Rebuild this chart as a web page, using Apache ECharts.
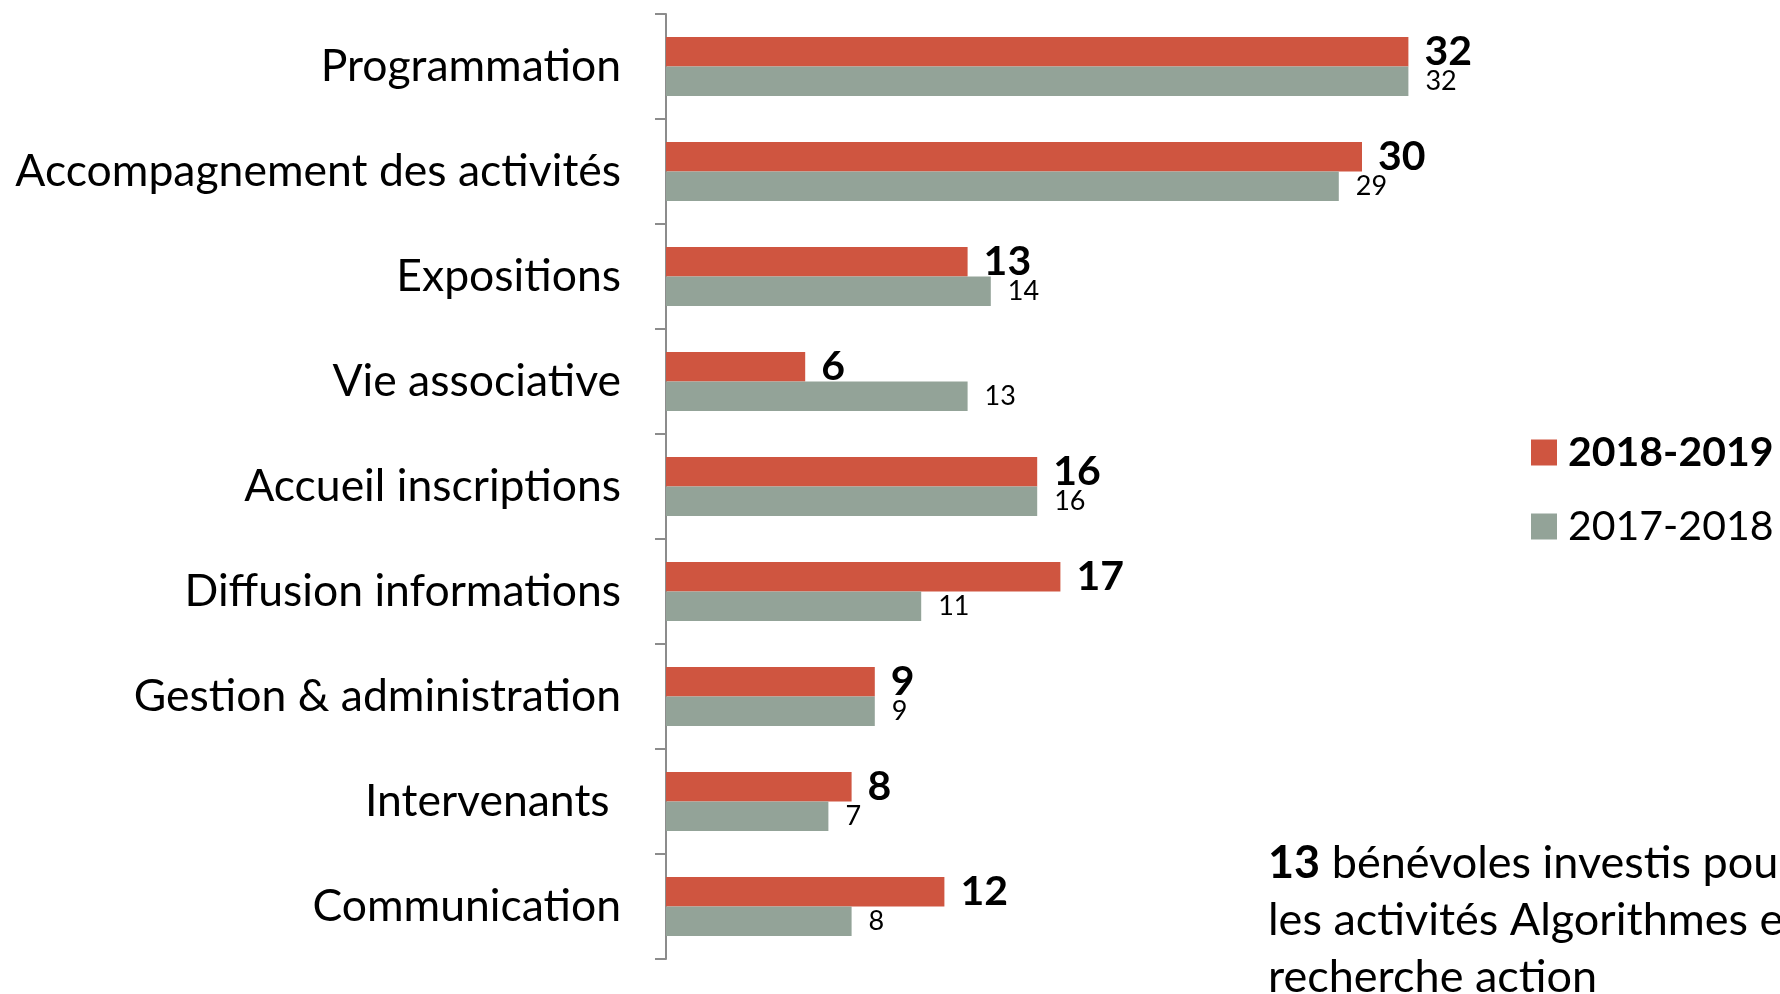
<!DOCTYPE html>
<html>
<head>
<meta charset="utf-8">
<script src="https://cdn.jsdelivr.net/npm/echarts@6/dist/echarts.min.js"></script>
<style>
  html, body { margin: 0; padding: 0; background: #fff; }
  #chart { width: 1780px; height: 994px; }
</style>
</head>
<body>
<div id="chart"></div>
<script>
const categories = [
  'Programmation',
  'Accompagnement des activités',
  'Expositions',
  'Vie associative',
  'Accueil inscriptions',
  'Diffusion informations',
  'Gestion & administration',
  'Intervenants ',
  'Communication'
]
const values2018 = [32, 30, 13, 6, 16, 17, 9, 8, 12]
const values2017 = [32, 29, 14, 13, 16, 11, 9, 7, 8]

const FONT = 'Lato'

const chart = echarts.init(document.getElementById('chart'))
const option = {
  animation: false,
  backgroundColor: '#fff',
  textStyle: { fontFamily: FONT },
  grid: {
    left: 666,
    top: 14,
    width: 928,
    height: 945,
  },
  legend: {
    orient: 'vertical',
    left: 1526,
    top: 424,
    itemWidth: 26,
    itemHeight: 26,
    itemGap: 27,
    icon: 'rect',
    textStyle: {
      fontFamily: FONT,
      fontSize: 41,
      color: '#000',
      lineHeight: 47,
      padding: [0, 0, 0, 6],
    },
    data: [
      { name: '2018-2019', textStyle: { fontWeight: 'bold' } },
      { name: '2017-2018' },
    ],
  },
  xAxis: {
    type: 'value',
    min: 0,
    max: 40,
    show: false,
    splitLine: { show: false },
  },
  yAxis: {
    type: 'category',
    inverse: true,
    data: categories,
    axisLine: { show: true, lineStyle: { color: '#8c8c8c', width: 2 } },
    axisTick: { show: true, length: 11, lineStyle: { color: '#8c8c8c', width: 2 } },
    axisLabel: {
      margin: 45,
      fontFamily: FONT,
      fontSize: 44.5,
      color: '#000',
    },
  },
  series: [
    {
      name: '2018-2019',
      type: 'bar',
      data: values2018,
      barGap: '0%',
      barCategoryGap: '44%',
      itemStyle: { color: '#cf5540' },
      label: {
        show: true,
        position: 'right',
        distance: 16,
        fontFamily: FONT,
        fontSize: 41,
        fontWeight: 'bold',
        color: '#000',
      },
    },
    {
      name: '2017-2018',
      type: 'bar',
      data: values2017,
      barGap: '0%',
      barCategoryGap: '44%',
      itemStyle: { color: '#93a398' },
      label: {
        show: true,
        position: 'right',
        distance: 17,
        fontFamily: FONT,
        fontSize: 27,
        color: '#000',
      },
    },
  ],
  graphic: [
    {
      type: 'text',
      left: 1268,
      top: 835,
      style: {
        text: '{b|13} bénévoles investis pour\nles activités Algorithmes et\nrecherche action',
        fontFamily: FONT,
        fontSize: 45,
        lineHeight: 57,
        fill: '#000',
        rich: {
          b: { fontFamily: FONT, fontSize: 45, fontWeight: 'bold', lineHeight: 57, fill: '#000' },
        },
      },
    },
  ],
}
chart.setOption(option)
</script>
</body>
</html>
